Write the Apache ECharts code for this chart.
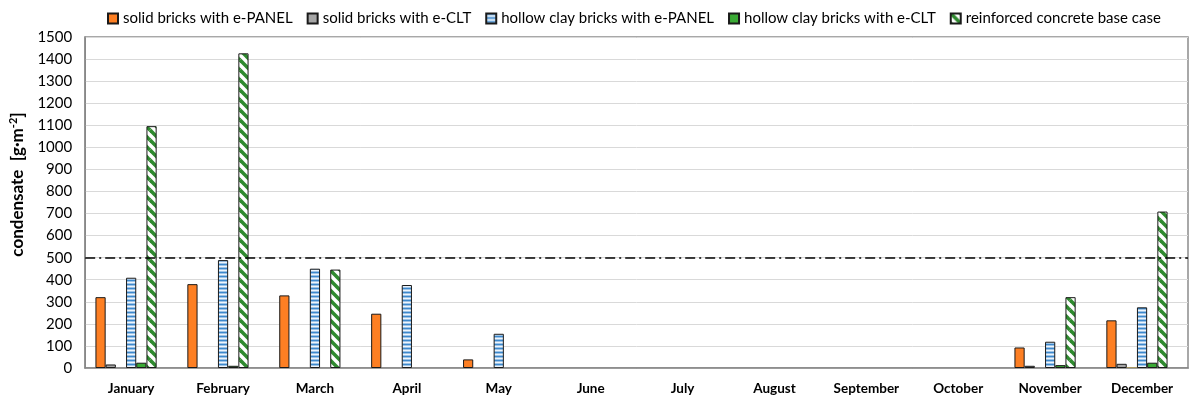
<!DOCTYPE html>
<html>
<head>
<meta charset="utf-8">
<script src="https://cdn.jsdelivr.net/npm/echarts@6/dist/echarts.min.js"></script>
<style>html,body{margin:0;padding:0;background:#fff}#c{width:1190px;height:400px}</style>
</head>
<body>
<div id="c"></div>
<script>
const months = ['January','February','March','April','May','June','July','August','September','October','November','December'];
const solidPanel   = [321, 380, 329, 246, 39, null, null, null, null, null, 93, 216];
const solidClt     = [16, null, null, null, null, null, null, null, null, null, 10, 19];
const unlabeled    = [null, null, null, null, null, null, null, null, null, null, null, 2];
const hollowPanel  = [409, 489, 450, 376, 155, null, null, null, null, null, 119, 275];
const hollowClt    = [24, 10, null, null, null, null, null, null, null, null, 13, 24];
const baseCase     = [1096, 1426, 446, null, null, null, null, null, null, null, 321, 709];
const threshold = 500;
const yTicks = {min: 0, max: 1500, interval: 100};
const seriesNames = ['solid bricks with e-PANEL','solid bricks with e-CLT','hollow clay bricks with e-PANEL','hollow clay bricks with e-CLT','reinforced concrete base case'];

function stripeBlue(){
  const c = document.createElement('canvas'); c.width = 4; c.height = 4;
  const g = c.getContext('2d');
  const rows = ['#3c88cc','#9dc3e6','#eef5fc','#9dc3e6'];
  rows.forEach((col,i)=>{g.fillStyle=col; g.fillRect(0,i,4,1);});
  return c;
}
function hatchGreen(){
  const s = 10;
  const c = document.createElement('canvas'); c.width = s; c.height = s;
  const g = c.getContext('2d');
  g.fillStyle = '#ffffff'; g.fillRect(0,0,s,s);
  g.strokeStyle = '#2f8a2f'; g.lineWidth = 3.6;
  [[-s,-s],[0,0],[s,s],[-s,0],[0,-s],[s,0],[0,s]].forEach(([dx,dy])=>{
    g.beginPath(); g.moveTo(dx, dy); g.lineTo(dx+s, dy+s); g.stroke();
  });
  return c;
}
const blueFill = {image: stripeBlue(), repeat: 'repeat'};
const hatchFill = {image: hatchGreen(), repeat: 'repeat'};

const bw = 10.2;
function bar(name, data, color, extra){
  return Object.assign({
    name, type: 'bar', data, barWidth: bw, barGap: '0%',
    itemStyle: {color, borderColor: '#1a1a1a', borderWidth: 1},
    emphasis: {disabled: true}, animation: false
  }, extra || {});
}
const FF = 'Lato, "Noto Sans", sans-serif';

const chart = echarts.init(document.getElementById('c'));
chart.setOption({
  animation: false,
  textStyle: {fontFamily: FF},
  legend: {
    data: seriesNames, top: 6, left: 102, itemWidth: 10, itemHeight: 10, itemGap: 14, icon: 'rect',
    textStyle: {fontSize: 15, color: '#000', fontFamily: FF},
    selectedMode: false
  },
  grid: {left: 83, right: 2, top: 37, bottom: 32, show: true, borderColor: '#8c8c8c', borderWidth: 1.5},
  xAxis: {
    type: 'category', data: months,
    axisLine: {lineStyle: {color: '#868686', width: 1.5}},
    axisTick: {show: false},
    axisLabel: {fontWeight: 'bold', fontSize: 13.5, color: '#000', margin: 14}
  },
  yAxis: {
    type: 'value', min: yTicks.min, max: yTicks.max, interval: yTicks.interval,
    name: '{a|condensate  [g·m}{s|-2}{a|]}',
    nameLocation: 'middle', nameGap: 54, nameRotate: 90,
    nameTextStyle: {padding: [0, 0, 0, 36], rich: {
      a: {fontWeight: 'bold', fontSize: 17, color: '#000', fontFamily: FF},
      s: {fontWeight: 'bold', fontSize: 11, color: '#000', verticalAlign: 'top', padding: [0,0,9,0], fontFamily: FF}
    }},
    axisLine: {show: true, lineStyle: {color: '#868686', width: 1.5}},
    axisTick: {show: false},
    splitLine: {lineStyle: {color: '#d9d9d9', width: 1}},
    axisLabel: {fontSize: 15, color: '#000', margin: 13, formatter: v => String(v)}
  },
  series: [
    bar(seriesNames[0], solidPanel, '#fd7f23', {
      markLine: {silent: true, symbol: 'none', label: {show: false},
        lineStyle: {color: '#000', width: 1.6, type: [10, 4, 2, 4]},
        data: [{yAxis: threshold}]}
    }),
    bar(seriesNames[1], solidClt, '#a6a6a6'),
    bar('', unlabeled, '#c9a227', {itemStyle: {color: '#c9a227', borderWidth: 0}}),
    bar(seriesNames[2], hollowPanel, blueFill),
    bar(seriesNames[3], hollowClt, '#3aaa35'),
    bar(seriesNames[4], baseCase, hatchFill),
    bar('spacer', months.map(()=>null), 'transparent', {itemStyle: {color: 'transparent', borderWidth: 0}})
  ]
});
</script>
</body>
</html>
